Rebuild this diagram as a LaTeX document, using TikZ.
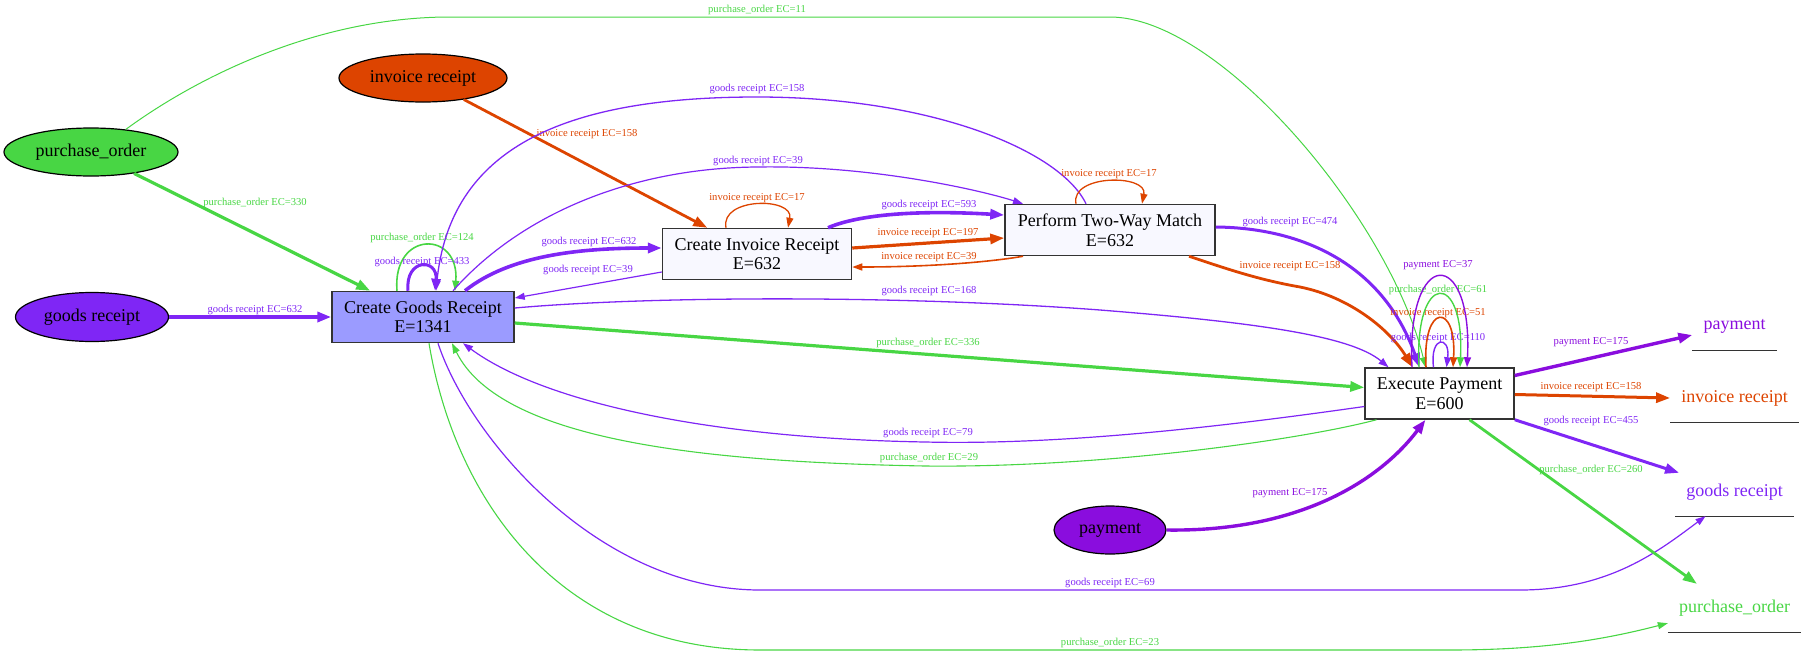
\documentclass[tikz,border=0pt]{standalone}
\usepackage{fontspec}
\setmainfont{Liberation Serif}
\usepackage{tikz}
\usetikzlibrary{arrows.meta, shapes.geometric}
\definecolor{cgoods}{RGB}{127,38,245}
\definecolor{cpay}{RGB}{138,13,222}
\definecolor{cinv}{RGB}{221,68,0}
\definecolor{cpo}{RGB}{72,214,68}
\definecolor{cgrfill}{RGB}{155,155,255}
\definecolor{pale}{RGB}{248,248,255}

\begin{document}
\begin{tikzpicture}[x=1pt, y=-1pt,
  every node/.style={font=\fontsize{18}{19.5}\selectfont},
  obj/.style={ellipse, draw=black, line width=1.2pt, inner sep=0pt},
  act/.style={rectangle, draw=black!80, line width=1.5pt, inner sep=0pt,
              align=center, minimum height=51pt},
  snk/.style={inner xsep=11pt, inner ysep=0pt, minimum height=48pt},
  elab/.style={font=\fontsize{10.6}{12}\selectfont, inner sep=0pt},
  arr/.style={-{Triangle[length=10pt,width=7pt]}},
  arrm/.style={-{Triangle[length=12pt,width=9pt]}},
  arrb/.style={-{Triangle[length=14pt,width=10pt]}}]

  \useasboundingbox (0,0) rectangle (1807,656);

  \node[obj, fill=cpo, minimum width=174pt, minimum height=48pt] (po) at (91,152) {purchase\_order};
  \node[obj, fill=cinv, minimum width=168pt, minimum height=48pt] (ir) at (423,78) {invoice receipt};
  \node[obj, fill=cgoods, minimum width=153pt, minimum height=49pt] (gr) at (92,317) {goods receipt};
  \node[obj, fill=cpay, minimum width=112pt, minimum height=48pt] (pay) at (1110,530) {payment};

  \node[act, fill=cgrfill, minimum width=182pt] (cgr) at (423,317) {Create Goods Receipt\\E=1341};
  \node[act, fill=pale, minimum width=189pt] (cir) at (757,254) {Create Invoice Receipt\\E=632};
  \node[act, fill=pale, minimum width=210pt] (ptwm) at (1110,230) {Perform Two-Way Match\\E=632};
  \node[act, fill=white, minimum width=149pt] (ep) at (1439.5,393.5) {Execute Payment\\E=600};

  \node[snk, text=cpay] (spay) at (1734.5,326) {payment};
  \node[snk, text=cinv] (sinv) at (1734.5,398) {invoice receipt};
  \node[snk, text=cgoods] (sgr) at (1734.5,492) {goods receipt};
  \node[snk, text=cpo] (spo) at (1734.5,608) {purchase\_order};
  \foreach \s in {spay,sinv,sgr,spo}
     \draw[line width=1.3pt, black!80] (\s.south west) -- (\s.south east);

  \draw[cpo, line width=3.2pt, arrb] (po) -- (cgr)
     node[elab] (l330) at (255,203) {purchase\_order EC=330};
  \draw[cgoods, line width=3.6pt, arrb] (gr) -- (cgr)
     node[elab] (l632a) at (255,310) {goods receipt EC=632};
  \draw[cinv, line width=2.8pt, arrb] (ir) -- (cir)
     node[elab] (l158i) at (587,134) {invoice receipt EC=158};
  \draw[cpo, line width=1.6pt, arr] ([xshift=-26]cgr.north) .. controls (392,230) and (460,230) .. ([xshift=32]cgr.north)
     node[elab] (l124) at (422,238) {purchase\_order EC=124};
  \draw[cgoods, line width=3pt, arrm] ([xshift=-15]cgr.north) .. controls (405,258) and (438,258) .. ([xshift=12]cgr.north)
     node[elab] (l433) at (422,262) {goods receipt EC=433};

  \draw[cgoods, line width=1.3pt, arr] ([xshift=-24]ptwm.north) .. controls (1060,150) and (930,97) .. (757,97)
     .. controls (560,97) and (450,150) .. ([xshift=13]cgr.north)
     node[elab] (l158g) at (757,89) {goods receipt EC=158};
  \draw[cgoods, line width=1.2pt, arr] ([xshift=30]cgr.north) .. controls (520,215) and (630,168) .. (757,167)
     .. controls (870,165) and (980,190) .. ([xshift=-87]ptwm.north)
     node[elab] (l39u) at (758,161) {goods receipt EC=39};
  \draw[cgoods, line width=3.6pt, arrb] ([xshift=42]cgr.north) .. controls (510,255) and (580,248) .. ([yshift=6]cir.west)
     node[elab] (l632b) at (589,242) {goods receipt EC=632};
  \draw[cgoods, line width=1.2pt, arr] ([yshift=-18]cir.west) -- ([yshift=19]cgr.east)
     node[elab] (l39l) at (588,270) {goods receipt EC=39};
  \draw[cinv, line width=1.3pt, arr] ([xshift=-31]cir.north) .. controls (720,197) and (794,197) .. ([xshift=31]cir.north)
     node[elab] (l17a) at (757,198) {invoice receipt EC=17};

  \draw[cgoods, line width=3.6pt, arrb] ([xshift=71]cir.north) .. controls (860,214) and (920,210) .. ([yshift=15]ptwm.west)
     node[elab] (l593) at (929,205) {goods receipt EC=593};
  \draw[cinv, line width=3.2pt, arrb] ([yshift=6]cir.east) -- ([yshift=-8]ptwm.west)
     node[elab] (l197) at (928,233) {invoice receipt EC=197};
  \draw[cinv, line width=1.6pt, arr] ([xshift=-87]ptwm.south) .. controls (990,262) and (930,267) .. ([yshift=-13]cir.east)
     node[elab] (l39i) at (929,257) {invoice receipt EC=39};
  \draw[cinv, line width=1.3pt, arr] ([xshift=-34]ptwm.north) .. controls (1070,174) and (1148,174) .. ([xshift=32]ptwm.north)
     node[elab] (l17b) at (1109,174) {invoice receipt EC=17};

  \draw[cgoods, line width=3pt, arrb] ([yshift=3]ptwm.east) .. controls (1310,228) and (1385,270) .. ([xshift=-20]ep.north)
     node[elab] (l474) at (1290,222) {goods receipt EC=474};
  \draw[cinv, line width=2.8pt, arrb] ([xshift=79]ptwm.south) .. controls (1230,270) and (1260,280) .. (1300,287)
     .. controls (1350,297) and (1390,330) .. ([xshift=-27]ep.north)
     node[elab] (l158p) at (1290,266) {invoice receipt EC=158};
  \draw[cgoods, line width=1.3pt, arr] ([yshift=9]cgr.east) .. controls (650,296) and (900,295) .. (1100,310)
     .. controls (1250,322) and (1350,335) .. ([xshift=-51]ep.north)
     node[elab] (l168) at (929,291) {goods receipt EC=168};
  \draw[cpo, line width=3.2pt, arrb] ([yshift=-6]cgr.east) -- ([yshift=6]ep.west)
     node[elab] (l336) at (928,343) {purchase\_order EC=336};

  \draw[cgoods, line width=1.2pt, arr] ([yshift=-13]ep.west) .. controls (1200,430) and (1050,445) .. (925,442)
     .. controls (700,438) and (540,400) .. ([xshift=40]cgr.south)
     node[elab] (l79) at (928,433) {goods receipt EC=79};
  \draw[cpo, line width=1.1pt, arr] ([xshift=-63]ep.south) .. controls (1300,440) and (1100,468) .. (925,466)
     .. controls (700,462) and (500,440) .. ([xshift=29]cgr.south)
     node[elab] (l29) at (929,458) {purchase\_order EC=29};
  \draw[cgoods, line width=1.2pt, arr] ([xshift=15]cgr.south) .. controls (470,440) and (600,590) .. (760,590)
     -- (1520,590) .. controls (1610,590) and (1660,550) .. ([xshift=-29]sgr.south)
     node[elab] (l69) at (1110,583) {goods receipt EC=69};
  \draw[cpo, line width=1.1pt, arr] ([xshift=6]cgr.south) .. controls (455,500) and (560,650) .. (760,650)
     -- (1450,650) .. controls (1550,650) and (1610,638) .. ([yshift=9]spo.south west)
     node[elab] (l23) at (1110,643) {purchase\_order EC=23};
  \draw[cpo, line width=1pt, arr] (po.33) .. controls (200,75) and (320,17) .. (450,17)
     -- (1110,17) .. controls (1220,17) and (1390,220) .. ([xshift=-14]ep.north)
     node[elab] (l11) at (757,10) {purchase\_order EC=11};

  \draw[cgoods, line width=1.4pt, arr] ([xshift=-6]ep.north) .. controls +(-4,-32) and +(4,-32) .. ([xshift=7]ep.north)
     node[elab] (l110) at (1438,338) {goods receipt EC=110};
  \draw[cinv, line width=1.6pt, arr] ([xshift=-13.5]ep.north) .. controls +(-4,-65) and +(4,-65) .. ([xshift=13.5]ep.north)
     node[elab] (l51) at (1438,313) {invoice receipt EC=51};
  \draw[cpo, line width=1.4pt, arr] ([xshift=-20.5]ep.north) .. controls +(-5,-97) and +(5,-97) .. ([xshift=20.5]ep.north)
     node[elab] (l61) at (1438,290) {purchase\_order EC=61};
  \draw[cpay, line width=1.4pt, arr] ([xshift=-27.5]ep.north) .. controls +(-6,-121) and +(6,-121) .. ([xshift=27.5]ep.north)
     node[elab] (l37) at (1438,265) {payment EC=37};

  \draw[cpay, line width=3.4pt, arrb] (pay.east) .. controls (1300,532) and (1380,480) .. ([xshift=-14]ep.south)
     node[elab] (l175a) at (1290,493) {payment EC=175};
  \draw[cpay, line width=3.4pt, arrb] ([yshift=18]ep.east) -- ([yshift=-9]spay.west)
     node[elab] (l175b) at (1591,342) {payment EC=175};
  \draw[cinv, line width=3pt, arrb] ([yshift=-1]ep.east) -- (sinv.west)
     node[elab] (l158s) at (1591,387) {invoice receipt EC=158};
  \draw[cgoods, line width=3pt, arrb] (ep.south east) -- ([xshift=4,yshift=-5]sgr.north west)
     node[elab] (l455) at (1591,421) {goods receipt EC=455};
  \draw[cpo, line width=2.8pt, arrb] ([xshift=30]ep.south) -- ([xshift=29]spo.north west)
     node[elab] (l260) at (1591,470) {purchase\_order EC=260};
\end{tikzpicture}
\end{document}
